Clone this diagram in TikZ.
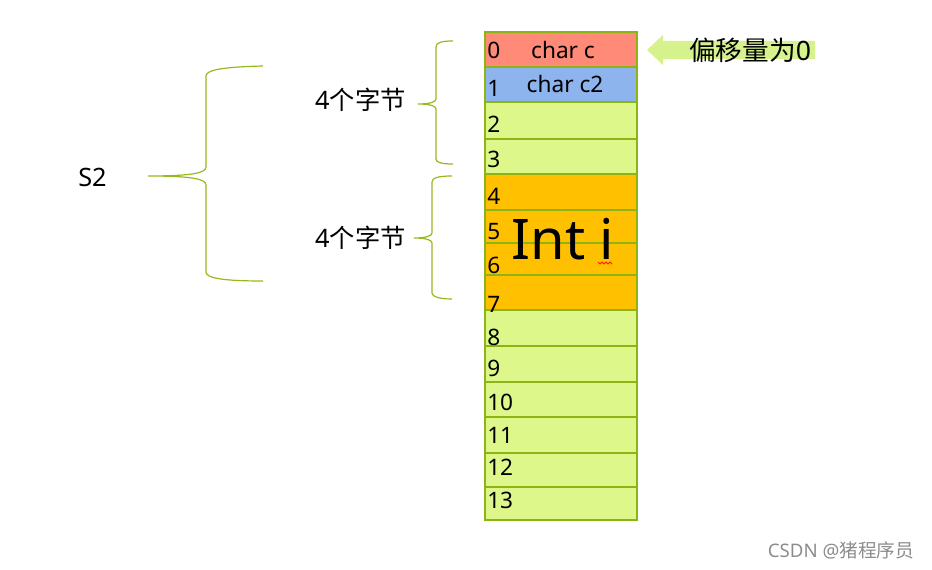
\documentclass[tikz,border=0pt]{standalone}
\usepackage{fontspec}
\setmainfont{Noto Sans}
\newfontfamily\cjk{Noto Sans CJK SC}
\definecolor{cred}{RGB}{255,138,120}
\definecolor{cblue}{RGB}{142,180,238}
\definecolor{cgreen}{RGB}{221,247,138}
\definecolor{corange}{RGB}{255,192,0}
\definecolor{cborder}{RGB}{140,180,20}
\definecolor{cbrace}{RGB}{150,185,30}
\definecolor{carrow}{RGB}{214,242,140}
\begin{document}
\begin{tikzpicture}[x=0.75pt,y=-0.75pt,
  cell/.style={draw=cborder,line width=1.6pt,rectangle,minimum width=114pt,inner sep=0pt,outer sep=0pt},
  num/.style={anchor=base west,inner sep=0pt,font=\fontsize{17}{20}\selectfont},
  ctext/.style={inner sep=0pt,font=\fontsize{17}{20}\selectfont},
  bracepath/.style={draw=cbrace,line width=0.9pt},
  label/.style={inner sep=0pt,font=\fontsize{19}{22}\selectfont}]
\useasboundingbox (0,0) rectangle (932,570);
% cells
\foreach \n/\ya/\yb/\col in {0/32/67/cred,1/67/102/cblue,2/102/139/cgreen,3/139/174/cgreen,4/174/210/corange,5/210/243/corange,6/243/275/corange,7/275/310/corange,8/310/346/cgreen,9/346/382/cgreen,10/382/417/cgreen,11/417/453/cgreen,12/453/487/cgreen,13/487/520/cgreen}{
  \pgfmathsetmacro\yc{(\ya+\yb)/2}
  \pgfmathsetmacro\hh{(\yb-\ya)*0.75}
  \node[cell,fill=\col,minimum height=\hh pt] (c\n) at (561,\yc) {};
}
% index numbers
\foreach \n/\yb in {0/59,1/97,2/133,3/168,4/205,5/240,6/274,7/313,8/345,9/377,10/410,11/443,12/475,13/508}{
  \node[num] (n\n) at (487,\yb) {\n};
}
\node[ctext] (tc) at (563,50) {char c};
\node[ctext] (tc2) at (565,84) {char c2};
\node[anchor=base,inner sep=0pt,font=\fontsize{42}{48}\selectfont] (ti) at (563,260) {Int i};
\draw[red!80!orange,line width=0.6pt] (598,262)--(600,264)--(602,262)--(604,264)--(606,262)--(608,264)--(610,262)--(612,264);
% arrow
\fill[carrow] (647,50)--(663,35)--(663,41)--(815,41)--(815,59)--(663,59)--(663,65)--cycle;
\node[inner sep=0pt,anchor=west,font=\fontsize{20}{24}\selectfont] (off) at (689,50) {{\cjk 偏移量为}0};
% braces
\draw[bracepath] (263,66) .. controls (222,67) and (206,70) .. (206,76) -- (206,167)
  .. controls (206,173) and (192,176) .. (148,176) coordinate (bt)
  .. controls (192,176) and (206,179) .. (206,185) -- (206,272)
  .. controls (206,278) and (222,281) .. (263,281);
\draw[bracepath] (453,41) .. controls (440,41) and (436,43) .. (436,47) -- (436,99)
  .. controls (436,102) and (430,104) .. (418,104) coordinate (b1)
  .. controls (430,104) and (436,106) .. (436,109) -- (436,159)
  .. controls (436,162) and (440,164) .. (453,164);
\draw[bracepath] (452,176) .. controls (438,176) and (432,178) .. (432,182) -- (432,233)
  .. controls (432,236) and (426,238) .. (414,238) coordinate (b2)
  .. controls (426,238) and (432,240) .. (432,243) -- (432,293)
  .. controls (432,296) and (438,299) .. (452,299);
% labels
\node[label,anchor=east] (s2) at (107,177) {S2};
\node[label,anchor=east] (l1) at (406,100) {4{\cjk 个字节}};
\node[label,anchor=east] (l2) at (406,238) {4{\cjk 个字节}};
% watermark
\node[inner sep=0pt,text=black!45,font=\fontsize{14}{16}\selectfont] (wm) at (841,550) {CSDN @{\cjk 猪程序员}};
\end{tikzpicture}
\end{document}
